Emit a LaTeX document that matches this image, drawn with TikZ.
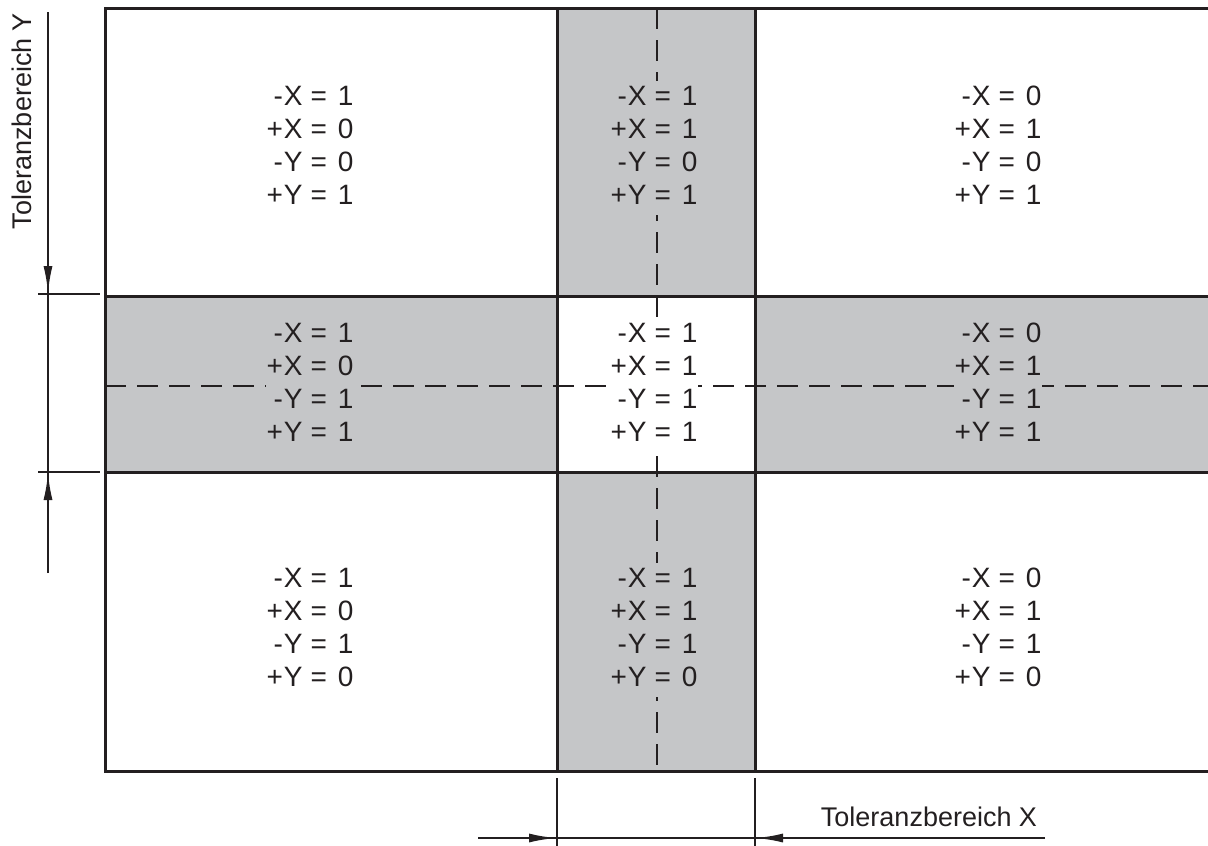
\documentclass[tikz,border=0pt]{standalone}
\usepackage{fontspec}
\setmainfont{Liberation Sans}
\usetikzlibrary{arrows.meta, positioning, calc}
\definecolor{tolgray}{RGB}{197, 198, 200}
\definecolor{tolink}{RGB}{35, 31, 32}
\newcommand{\bitcell}[4]{%
  \begin{tabular}{@{}r@{\hspace{1pt}}l@{\hspace{8pt}}l@{\hspace{11pt}}l@{}}
    -&X&=&#1\\ +&X&=&#2\\ -&Y&=&#3\\ +&Y&=&#4
  \end{tabular}}

\begin{document}
\begin{tikzpicture}[x=1pt, y=-1pt, >={Latex[length=28pt, width=9pt]},
  grid/.style={tolink, line width=3pt},
  axis/.style={tolink, line width=2.4pt, dash pattern=on 21pt off 11pt},
  dim/.style={tolink, line width=2.6pt},
  bits/.style={font=\fontsize{28}{33}\selectfont, text=tolink, inner sep=1pt},
  dimlabel/.style={font=\fontsize{27}{32}\selectfont, text=tolink, inner sep=0pt}]

  \useasboundingbox (0,0) rectangle (1208,846);

  % --- grey tolerance bands ---
  \fill[tolgray] (557,8) rectangle (755,296);
  \fill[tolgray] (557,472) rectangle (755,771);
  \fill[tolgray] (105,296) rectangle (557,472);
  \fill[tolgray] (755,296) rectangle (1208,472);

  % --- centre axes (dashed) ---
  \draw[axis] (657,8) -- (657,771);
  \draw[axis] (105,386) -- (1208,386);

  % --- signal states per field ---
  \foreach \x/\y/\f/\a/\b/\c/\d/\nm in {
    310/148/white/1/0/0/1/tl,
    654/148/tolgray/1/1/0/1/tm,
    998/148/white/0/1/0/1/tr,
    310/385/tolgray/1/0/1/1/ml,
    654/385/white/1/1/1/1/mm,
    998/385/tolgray/0/1/1/1/mr,
    310/630/white/1/0/1/0/bl,
    654/630/tolgray/1/1/1/0/bm,
    998/630/white/0/1/1/0/br}
  {
    \node[bits, fill=\f] (\nm) at (\x,\y) {\bitcell{\a}{\b}{\c}{\d}};
  }

  % --- grid ---
  \draw[grid] (1208,8) -- (105,8) -- (105,771) -- (1208,771);
  \foreach \y in {296,472} \draw[grid] (105,\y) -- (1208,\y);
  \foreach \x in {557,755} \draw[grid] (\x,8) -- (\x,771);

  % --- Toleranzbereich Y ---
  \coordinate (ytop) at (48,12);
  \coordinate (ybot) at (48,573);
  \coordinate (yhi) at (48,294);
  \coordinate (ylo) at (48,472);
  \draw[dim] (ytop) -- (ybot);
  \draw[dim, ->] (ytop) -- (yhi);
  \draw[dim, ->] (ybot) -- (ylo);
  \draw[dim] (38,294) -- (100,294);
  \draw[dim] (38,472) -- (100,472);
  \node[dimlabel, rotate=90] (tolY) at (22,121) {Toleranzbereich Y};

  % --- Toleranzbereich X ---
  \coordinate (xleft) at (478,838);
  \coordinate (xright) at (1045,838);
  \coordinate (xlo) at (557,838);
  \coordinate (xhi) at (755,838);
  \draw[dim] (557,778) -- (557,846);
  \draw[dim] (755,778) -- (755,846);
  \draw[dim] (xleft) -- (xright);
  \draw[dim, ->] (xleft) -- (xlo);
  \draw[dim, ->] (xright) -- (xhi);
  \node[dimlabel] (tolX) at (929,817) {Toleranzbereich X};

\end{tikzpicture}
\end{document}
